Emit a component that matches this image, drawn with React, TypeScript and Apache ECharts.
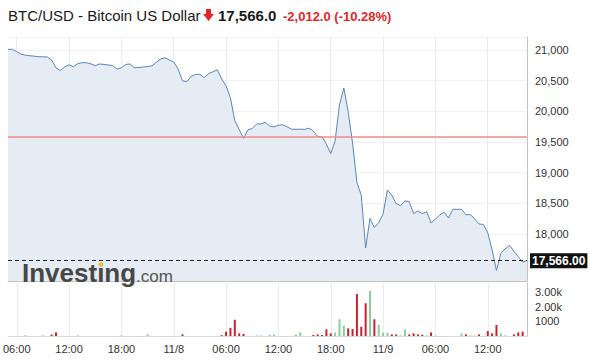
import React, { useEffect, useRef } from 'react';
import * as echarts from 'echarts';

// 30-minute points from 11/7 05:00 to 11/9 16:30
const startMonth = 11;
const startDay = 7;
const startHour = 5;
const stepMinutes = 30;

const prices = [
  21011, 21011, 20972, 20932, 20914, 20907, 20899, 20891, 20889, 20886,
  20837, 20707, 20667, 20723, 20759, 20728, 20777, 20793, 20793, 20775,
  20746, 20772, 20764, 20756, 20746, 20690, 20710, 20765, 20772, 20710,
  20715, 20723, 20731, 20742, 20798, 20853, 20873, 20837, 20804, 20690,
  20500, 20483, 20571, 20602, 20604, 20550, 20615, 20645, 20677, 20527,
  20416, 20221, 19851, 19704, 19561, 19696, 19722, 19794, 19795, 19822,
  19760, 19748, 19773, 19782, 19747, 19709, 19707, 19709, 19706, 19725,
  19680, 19590, 19585, 19463, 19311, 19517, 20103, 20381, 19992, 19484,
  18844, 18630, 17772, 18255, 18106, 18186, 18328, 18718, 18633, 18497,
  18462, 18542, 18527, 18333, 18376, 18333, 18364, 18180, 18242, 18311,
  18355, 18262, 18403, 18403, 18403, 18311, 18320, 18245, 18164, 18156,
  18020, 17743, 17406, 17686, 17758, 17815, 17720, 17632, 17541, 17566,
];

const volumes = [
  0, 0, 0, 0, 50, 0, 0, 0, 40, 0,
  100, 250, 0, 0, 0, 0, 40, 0, 0, 0,
  0, 0, 0, 0, 0, 0, 40, 0, 0, 0,
  0, 0, 120, 0, 0, 0, 0, 0, 0, 0,
  120, 0, 0, 0, 0, 0, 0, 0, 0, 60,
  300, 560, 1120, 180, 150, 0, 0, 40, 40, 0,
  70, 110, 0, 0, 0, 0, 110, 250, 0, 0,
  70, 110, 70, 460, 180, 250, 1150, 710, 530, 480,
  2900, 640, 2260, 3100, 1150, 760, 230, 230, 110, 110,
  50, 460, 110, 180, 110, 90, 40, 250, 30, 0,
  0, 0, 0, 0, 180, 110, 40, 40, 110, 0,
  340, 180, 760, 180, 40, 0, 110, 250, 300, 0,
];

const upBars = [4, 8, 16, 26, 32, 57, 58, 60, 61, 66, 67, 75, 76, 77, 83, 85, 86, 87, 90, 91, 96, 98, 104, 106, 107, 113, 114];

const lastPrice = 17566;
const prevClose = 19578;
const changeText = '-2,012.0 (-10.28%)';
const titleText = 'BTC/USD - Bitcoin US Dollar';
const priceText = '17,566.0';
const lastLabel = '17,566.00';
const volumeTicks = [1000, 2000, 3000];

const pad = (n: number) => (n < 10 ? '0' + n : '' + n);

const categories: string[] = [];
const tickText: string[] = [];
for (let i = 0; i < prices.length; i++) {
  const mins = startHour * 60 + i * stepMinutes;
  const day = startDay + Math.floor(mins / 1440);
  const m = mins % 1440;
  const hh = Math.floor(m / 60);
  const mm = m % 60;
  categories.push(`${startMonth}/${day} ${pad(hh)}:${pad(mm)}`);
  if (mm === 0 && hh % 6 === 0) {
    tickText.push(hh === 0 ? `${startMonth}/${day}` : `${pad(hh)}:00`);
  } else {
    tickText.push('');
  }
}

const FONT = 'Arial, "Liberation Sans", sans-serif';
const fmtThousands = (v: number) => {
  const s = Math.round(v).toString();
  return s.replace(/\B(?=(\d{3})+(?!\d))/g, ',');
};

export default function App() {
  const ref = useRef<HTMLDivElement>(null);
  useEffect(() => {
    if (!ref.current) return;
    const chart = echarts.init(ref.current, undefined, { renderer: 'svg' });
    const showTick = (index: number) => tickText[index] !== '';
    const option: any = {
      animation: false,
      backgroundColor: '#ffffff',
      textStyle: { fontFamily: FONT },
      grid: [
        { left: 8, right: 63, top: 37, height: 244 },
        { left: 8, right: 63, top: 283, height: 53 },
      ],
      xAxis: [
        {
          gridIndex: 0,
          type: 'category',
          boundaryGap: false,
          data: categories,
          axisLabel: { show: false },
          axisTick: { show: false },
          axisLine: { show: true, lineStyle: { color: '#c4c4c4', width: 1 } },
          splitLine: { show: true, interval: showTick, lineStyle: { color: '#e8ebef', width: 1 } },
        },
        {
          gridIndex: 1,
          type: 'category',
          boundaryGap: false,
          data: categories,
          axisTick: { show: false },
          axisLine: { show: true, lineStyle: { color: '#dadada', width: 1 } },
          axisLabel: {
            show: true,
            interval: showTick,
            formatter: (_v: string, idx: number) => tickText[idx],
            color: '#333',
            fontSize: 11,
            fontFamily: FONT,
            margin: 7,
          },
          splitLine: { show: true, interval: showTick, lineStyle: { color: '#e8ebef', width: 1 } },
        },
      ],
      yAxis: [
        {
          gridIndex: 0,
          type: 'value',
          position: 'right',
          min: 17234,
          max: 21212,
          splitNumber: 8,
          minInterval: 500,
          maxInterval: 500,
          axisLine: { show: true, lineStyle: { color: '#c4c4c4' } },
          axisTick: { show: false },
          axisLabel: {
            showMinLabel: false,
            showMaxLabel: false,
            margin: 8,
            color: '#333',
            fontSize: 11,
            fontFamily: FONT,
            formatter: (v: number) => (v % 500 === 0 && v >= 18000 ? fmtThousands(v) : ''),
          },
          splitLine: { show: true, lineStyle: { color: '#eef0f3' } },
        },
        {
          gridIndex: 1,
          type: 'value',
          position: 'right',
          min: 0,
          max: 3655,
          interval: 1000,
          axisLine: { show: true, lineStyle: { color: '#c4c4c4' } },
          axisTick: { show: false },
          splitLine: { show: false },
          axisLabel: {
            showMinLabel: false,
            showMaxLabel: false,
            margin: 8,
            color: '#333',
            fontSize: 11,
            fontFamily: FONT,
            formatter: (v: number) =>
              volumeTicks.indexOf(v) < 0 ? '' : v >= 2000 ? (v / 1000).toFixed(2) + 'k' : String(v),
          },
        },
      ],
      series: [
        {
          type: 'line',
          xAxisIndex: 0,
          yAxisIndex: 0,
          data: prices,
          showSymbol: false,
          symbol: 'none',
          lineStyle: { color: '#5a86b6', width: 1 },
          areaStyle: { color: '#e6ecf3', opacity: 1 },
        },
        {
          type: 'line',
          xAxisIndex: 0,
          yAxisIndex: 0,
          data: [],
          color: '#f08a8a',
          markLine: {
            silent: true,
            symbol: ['none', 'none'],
            animation: false,
            lineStyle: { color: '#f08a8a', type: 'solid', width: 1.5, opacity: 1 },
            label: { show: false },
            data: [{ yAxis: prevClose }],
          },
        },
        {
          type: 'line',
          xAxisIndex: 0,
          yAxisIndex: 0,
          data: [],
          color: '#222',
          markLine: {
            silent: true,
            symbol: ['none', 'none'],
            animation: false,
            lineStyle: { color: '#222', type: [4, 3], width: 1, opacity: 1 },
            data: [
              {
                yAxis: lastPrice,
                label: {
                  show: true,
                  position: 'end',
                  formatter: lastLabel,
                  backgroundColor: '#111',
                  color: '#fff',
                  fontWeight: 'bold',
                  fontSize: 12,
                  fontFamily: FONT,
                  padding: [2, 2, 1, 2],
                  distance: 3,
                },
              },
            ],
          },
        },
        {
          type: 'bar',
          xAxisIndex: 1,
          yAxisIndex: 1,
          barWidth: 2,
          data: volumes.map((v, i) => ({
            value: v,
            itemStyle: { color: upBars.indexOf(i) >= 0 ? '#8fcba1' : '#c4242e' },
          })),
        },
      ],
      graphic: [
        {
          type: 'text',
          x: 8,
          y: 15,
          style: { text: titleText, font: `15px ${FONT}`, fill: '#1a1a1a', verticalAlign: 'middle' },
        },
        {
          type: 'polygon',
          shape: {
            points: [
              [206, 9],
              [211, 9],
              [211, 14],
              [214, 14],
              [208.5, 21],
              [203, 14],
              [206, 14],
            ],
          },
          style: { fill: '#e0262b' },
        },
        {
          type: 'text',
          x: 218,
          y: 15,
          style: { text: priceText, font: `bold 15px ${FONT}`, fill: '#1a1a1a', verticalAlign: 'middle' },
        },
        {
          type: 'text',
          x: 283,
          y: 16,
          style: { text: changeText, font: `bold 13px ${FONT}`, fill: '#e0262b', verticalAlign: 'middle' },
        },
        {
          type: 'text',
          x: 22,
          y: 273,
          z: 50,
          style: {
            text: 'Investing',
            font: `bold 26px ${FONT}`,
            fill: '#474747',
            verticalAlign: 'middle',
            shadowColor: 'rgba(255,255,255,0.9)',
            shadowBlur: 2,
          },
        },
        {
          type: 'circle',
          z: 51,
          shape: { cx: 100.8, cy: 264.5, r: 2.2 },
          style: { fill: '#f2bf3a' },
        },
        {
          type: 'text',
          x: 136,
          y: 276,
          z: 50,
          style: { text: '.com', font: `17px ${FONT}`, fill: '#555', verticalAlign: 'middle' },
        },
      ],
    };
    chart.setOption(option);
    return () => chart.dispose();
  }, []);
  return <div ref={ref} style={{ width: 590, height: 361, position: 'absolute', left: 0, top: 0 }} />;
}
